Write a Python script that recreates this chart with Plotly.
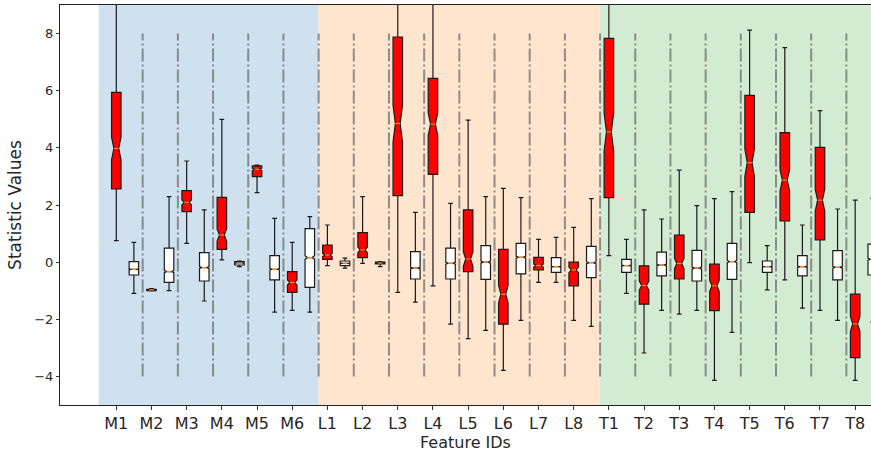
import plotly.graph_objects as go

features = ["M1", "M2", "M3", "M4", "M5", "M6",
            "L1", "L2", "L3", "L4", "L5", "L6", "L7", "L8",
            "T1", "T2", "T3", "T4", "T5", "T6", "T7", "T8"]
groups = [("M", 6, "rgb(207,225,238)"), ("L", 8, "rgb(255,228,206)"), ("T", 8, "rgb(211,234,211)")]

# red (filled) boxes
red_low = [0.75, -1.01, 0.66, 0.08, 2.43, -1.69,
           -0.12, -0.04, -1.06, -0.83, -2.68, -3.79, -0.71, -2.04,
           0.23, -3.18, -1.82, -4.14, -0.02, -0.62, -1.69, -4.14]
red_q1 = [2.56, -1.00, 1.77, 0.45, 2.99, -1.06,
          0.10, 0.16, 2.33, 3.07, -0.33, -2.17, -0.27, -0.83,
          2.26, -1.47, -0.59, -1.70, 1.74, 1.44, 0.78, -3.34]
red_med = [3.98, -0.97, 2.09, 0.95, 3.25, -0.71,
           0.25, 0.43, 4.85, 4.83, 0.11, -1.12, -0.12, -0.27,
           4.56, -0.82, -0.05, -0.83, 3.48, 2.87, 2.17, -2.16]
red_q3 = [5.94, -0.95, 2.50, 2.27, 3.37, -0.33,
          0.60, 1.03, 7.88, 6.43, 1.83, 0.45, 0.17, 0.00,
          7.83, -0.13, 0.95, -0.07, 5.84, 4.53, 4.02, -1.12]
red_high = [10.0, -0.93, 3.54, 5.00, 3.40, 0.69,
            1.30, 2.29, 10.0, 10.0, 4.97, 2.58, 0.80, 1.22,
            10.0, 1.83, 3.22, 2.22, 8.12, 7.51, 5.30, 2.17]

# white boxes
white_low = [-1.09, -1.00, -1.36, -0.16, -1.75, -1.75,
             -0.21, -0.16, -1.40, -2.17, -2.39, -2.04, -0.71, -2.25,
             -1.09, -1.69, -1.69, -2.46, -0.97, -1.61, -2.04, -2.10]
white_q1 = [-0.45, -0.71, -0.66, -0.10, -0.62, -0.88,
            -0.12, -0.06, -0.59, -0.59, -0.60, -0.41, -0.36, -0.54,
            -0.36, -0.48, -0.66, -0.60, -0.36, -0.48, -0.62, -0.45]
white_med = [-0.25, -0.33, -0.19, -0.03, -0.25, 0.16,
             -0.04, -0.03, -0.21, -0.04, 0.00, 0.17, -0.16, -0.02,
             -0.12, -0.10, -0.21, 0.02, -0.16, -0.16, -0.18, 0.10]
white_q3 = [0.02, 0.49, 0.33, 0.02, 0.23, 1.17,
            0.04, 0.00, 0.37, 0.49, 0.58, 0.66, 0.16, 0.55,
            0.10, 0.35, 0.41, 0.66, 0.04, 0.23, 0.40, 0.63]
white_high = [0.69, 2.29, 1.83, 0.04, 1.53, 1.59,
              0.14, 0.02, 1.74, 2.06, 2.29, 2.26, 0.87, 2.22,
              0.80, 1.51, 1.98, 2.47, 0.58, 1.30, 1.86, 2.24]

red_sample_size = 180
white_sample_size = 2500
box_w = 0.27
notch_frac = 0.25

pos_red = list(range(len(features)))
pos_white = [p + 0.5 for p in pos_red]


def notch(q1, q3, n):
    return [1.57 * (b - a) / n ** 0.5 for a, b in zip(q1, q3)]


fig = go.Figure()


def add_boxes(pos, low, q1, med, q3, high, fill, n, name):
    fig.add_trace(go.Box(
        x=pos, lowerfence=low, q1=q1, median=med, q3=q3, upperfence=high,
        notched=True, notchspan=notch(q1, q3, n), notchwidth=notch_frac,
        width=box_w, whiskerwidth=0.5, fillcolor=fill,
        line=dict(color="#1a1a1a", width=1.2), boxpoints=False,
        name=name, showlegend=False, hoverinfo="skip"))
    # orange median lines (matplotlib style), spanning the notch waist
    hw = box_w * (1 - 2 * notch_frac) / 2
    xs, ys = [], []
    for p, m in zip(pos, med):
        xs += [p - hw, p + hw, None]
        ys += [m, m, None]
    fig.add_trace(go.Scatter(x=xs, y=ys, mode="lines",
                             line=dict(color="#ff8c1a", width=1.3),
                             showlegend=False, hoverinfo="skip"))


add_boxes(pos_red, red_low, red_q1, red_med, red_q3, red_high, "#ff0000", red_sample_size, "red")
add_boxes(pos_white, white_low, white_q1, white_med, white_q3, white_high, "#ffffff", white_sample_size, "white")

# background group regions
start = -0.5
count = 0
for gname, n, col in groups:
    count += n
    end = count - 0.25 if gname != "T" else count + 1
    fig.add_shape(type="rect", xref="x", yref="paper", x0=start, x1=end, y0=0, y1=1,
                  fillcolor=col, line=dict(width=0), layer="below")
    start = end

# dash-dot separators
for p in pos_red:
    fig.add_shape(type="line", xref="x", yref="y", x0=p + 0.75, x1=p + 0.75, y0=-4, y1=8,
                  line=dict(color="rgba(110,110,110,0.75)", width=2, dash="13px,3px,2px,3px"),
                  layer="below")

tick_vals_y = [-4, -2, 0, 2, 4, 6, 8]
tick_text_y = ["−4", "−2", "0", "2", "4", "6", "8"]

fig.update_layout(
    width=871, height=455, autosize=False,
    margin=dict(l=60, r=0, t=5, b=50),
    paper_bgcolor="white", plot_bgcolor="white",
    boxmode="overlay",
    font=dict(family="DejaVu Sans", color="#262626"),
    xaxis=dict(range=[-1.6, 21.45], tickvals=pos_red, ticktext=features,
               tickfont=dict(size=16), ticks="outside", ticklen=4, tickcolor="#333",
               showline=True, linecolor="#222", linewidth=1.2, mirror=True,
               showgrid=False, zeroline=False, automargin=False,
               title=dict(text="Feature IDs", font=dict(size=16), standoff=2)),
    yaxis=dict(range=[-5, 9], tickvals=tick_vals_y, ticktext=tick_text_y,
               tickfont=dict(size=13), ticks="outside", ticklen=3, tickcolor="#333",
               showline=True, linecolor="#222", linewidth=1.2,
               showgrid=False, zeroline=False, automargin=False,
               title=dict(text="Statistic Values", font=dict(size=17), standoff=8)),
)

post = ("document.body.style.margin='0';document.body.style.padding='0';"
        "document.body.style.overflow='hidden';"
        "var gd=document.getElementById('{plot_id}');"
        "Plotly.relayout(gd,{width:871,height:455});")

fig.write_html("out.html", config={"responsive": False, "displayModeBar": False}, post_script=post)
